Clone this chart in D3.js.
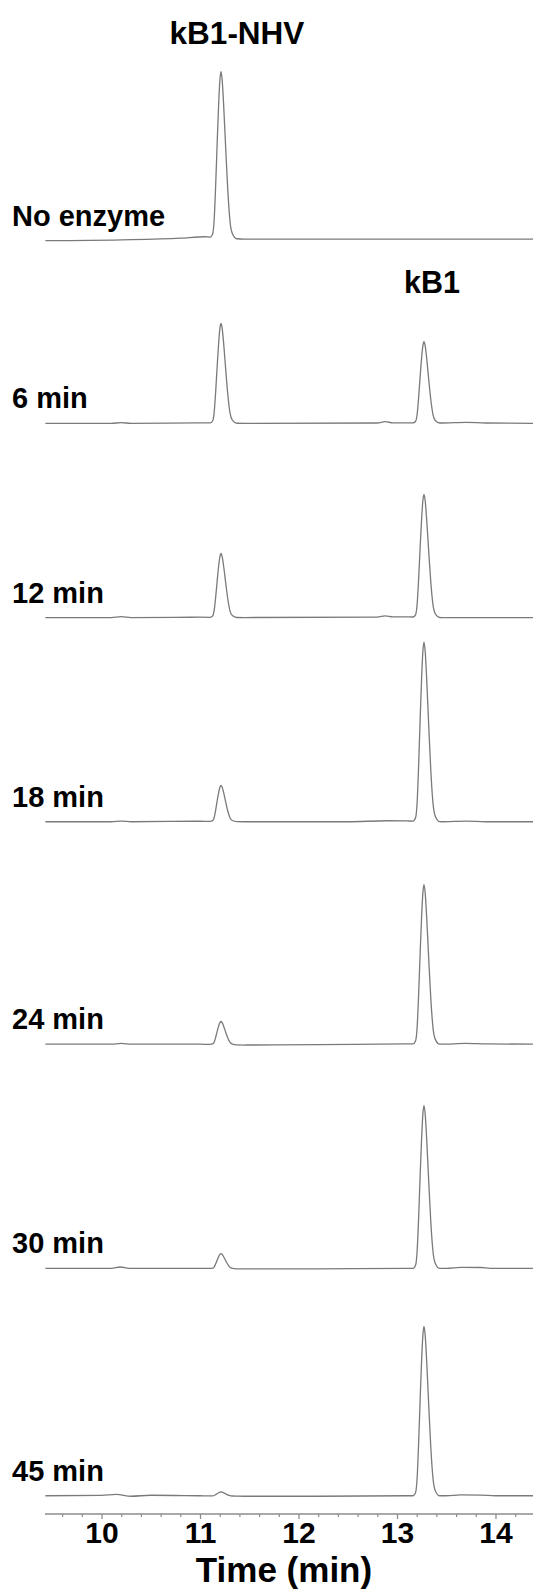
<!DOCTYPE html>
<html>
<head>
<meta charset="utf-8">
<script src="https://cdn.jsdelivr.net/npm/d3@7"></script>
<style>
html,body{margin:0;padding:0;background:#fff;}
svg{display:block;}
text{font-family:"Liberation Sans",Arial,sans-serif;font-weight:bold;fill:#000;}
</style>
</head>
<body>
<svg id="chart" width="533" height="1593"></svg>
<script>
// ---- data ----
const traceLabels = ["No enzyme", "6 min", "12 min", "18 min", "24 min", "30 min", "45 min"];
const peakNames = ["kB1-NHV", "kB1"];
const peakTimes = [11.213, 13.274];               // retention time (min)
const nhvHeights = [100, 60, 38.5, 21.7, 13.9, 9, 2.4];   // kB1-NHV peak height (a.u.)
const kb1Heights = [0, 49, 74, 108, 96, 98, 102];        // kB1 peak height (a.u.)
const traceOffsets = [767, 657, 540, 417, 283, 148, 11];  // stacking offset (a.u.)
// normalised peak profile: [time offset (min), relative height]
const peakProfile = [[-0.11,0],[-0.085,0.02],[-0.07,0.1],[-0.055,0.3],[-0.04,0.55],[-0.024,0.8],[-0.011,0.95],[0,1],
  [0.012,0.95],[0.027,0.8],[0.047,0.55],[0.068,0.3],[0.092,0.1],[0.115,0.03],[0.16,0]];
// baseline knots per trace [time, level]
const baselines = [
  [[9.43,0],[10.2,0.5],[10.8,1.5],[11.05,2.4],[11.45,0.9],[12.5,0.9],[13.5,1],[14.39,1]],
  [[9.43,0],[10.1,0],[10.2,0.4],[10.3,0],[11.0,0.3],[11.45,0],[12.8,0.2],[12.88,1],[12.96,0.3],[13.1,0.3],[13.45,0.2],[13.7,0.6],[13.9,0.2],[14.39,0]],
  [[9.43,0],[10.1,0],[10.2,0.5],[10.3,0],[11.0,0.2],[11.45,0],[12.8,0.3],[12.88,1],[12.96,0.4],[13.1,0.4],[13.45,0],[14.39,0]],
  [[9.43,0],[10.1,0],[10.2,0.4],[10.3,0],[11.0,0.3],[11.45,0],[12.5,0],[12.9,0.6],[13.1,0.5],[13.45,0],[13.7,0.4],[13.9,0],[14.39,0]],
  [[9.43,0],[10.1,0],[10.2,0.5],[10.3,0],[11.0,0],[11.45,-0.5],[12.2,-0.3],[13.1,0.2],[13.45,0],[13.7,0.5],[13.9,0.2],[14.39,0]],
  [[9.43,0],[10.1,0],[10.19,0.8],[10.28,0],[11.0,0],[11.45,-0.4],[12.2,-0.3],[13.1,0],[13.5,0],[13.65,0.6],[13.85,0.5],[13.95,0],[14.39,0]],
  [[9.43,0],[10.0,0.2],[10.15,0.8],[10.3,-0.3],[10.5,0.3],[11.0,0],[11.45,-0.3],[12.2,-0.3],[13.1,0],[13.5,0],[13.65,0.5],[13.85,0.4],[14.0,0],[14.39,0]]
];
const xDomain = [9.426, 14.381];
const majorTicks = [10, 11, 12, 13, 14];
const minorTicks = [9.6, 9.8, 10.2, 10.4, 10.6, 10.8, 11.2, 11.4, 11.6, 11.8, 12.2, 12.4, 12.6, 12.8, 13.2, 13.4, 13.6, 13.8, 14.2];
const xTitle = "Time (min)";

// ---- layout ----
const svg = d3.select("#chart");
const W = 533, axisY = 1514;
const x = d3.scaleLinear().domain(xDomain).range([45, 533]);
const y = d3.scaleLinear().domain([0, 912]).range([axisY, 0]);

function baseAt(knots, t) {
  for (let i = 0; i < knots.length - 1; i++) {
    if (t >= knots[i][0] && t <= knots[i + 1][0]) {
      const f = (t - knots[i][0]) / (knots[i + 1][0] - knots[i][0]);
      return knots[i][1] + f * (knots[i + 1][1] - knots[i][1]);
    }
  }
  return knots[knots.length - 1][1];
}

const lineGen = d3.line().x(d => x(d[0])).y(d => y(d[1])).curve(d3.curveMonotoneX);
const gTraces = svg.append("g");

traceLabels.forEach((lab, i) => {
  const heights = [nhvHeights[i], kb1Heights[i]];
  const knots = baselines[i];
  const pts = [];
  knots.forEach(k => {
    const inside = peakTimes.some((pt, j) => heights[j] > 0 && k[0] > pt - 0.12 && k[0] < pt + 0.17);
    if (!inside) pts.push([k[0], traceOffsets[i] + k[1]]);
  });
  peakTimes.forEach((pt, j) => {
    if (heights[j] <= 0) return;
    peakProfile.forEach(p => {
      const t = pt + p[0];
      pts.push([t, traceOffsets[i] + baseAt(knots, t) + heights[j] * p[1]]);
    });
  });
  pts.sort((a, b) => a[0] - b[0]);
  gTraces.append("path").attr("d", lineGen(pts))
    .attr("fill", "none").attr("stroke", "#7a7a7a").attr("stroke-width", 1.3)
    .attr("stroke-linejoin", "round");
  svg.append("text").attr("x", 12).attr("y", y(traceOffsets[i]) - 15)
    .attr("font-size", 29).text(lab);
});

// peak labels
svg.append("text").attr("x", x(peakTimes[0]) + 16).attr("y", 44)
  .attr("text-anchor", "middle").attr("font-size", 31.5).text(peakNames[0]);
svg.append("text").attr("x", x(peakTimes[1]) + 8).attr("y", 293)
  .attr("text-anchor", "middle").attr("font-size", 30.5).text(peakNames[1]);

// axis
const axisCol = "#8c8c8c";
svg.append("line").attr("x1", 45).attr("x2", W).attr("y1", axisY).attr("y2", axisY)
  .attr("stroke", axisCol).attr("stroke-width", 1.6);
const gx = svg.append("g").attr("transform", `translate(0,${axisY})`)
  .call(d3.axisBottom(x).tickValues(majorTicks).tickFormat(d3.format("d")).tickSize(5).tickPadding(3));
gx.select(".domain").remove();
gx.selectAll(".tick line").attr("stroke", axisCol).attr("stroke-width", 1.3);
gx.selectAll(".tick text").attr("font-size", 30).attr("font-family", "Liberation Sans, Arial, sans-serif")
  .attr("font-weight", "bold").attr("fill", "#000");
const gm = svg.append("g").attr("transform", `translate(0,${axisY})`)
  .call(d3.axisBottom(x).tickValues(minorTicks).tickFormat("").tickSize(3));
gm.select(".domain").remove();
gm.selectAll(".tick line").attr("stroke", axisCol).attr("stroke-width", 1.2);

svg.append("text").attr("x", 284).attr("y", 1582).attr("text-anchor", "middle")
  .attr("font-size", 35).text(xTitle);
</script>
</body>
</html>
